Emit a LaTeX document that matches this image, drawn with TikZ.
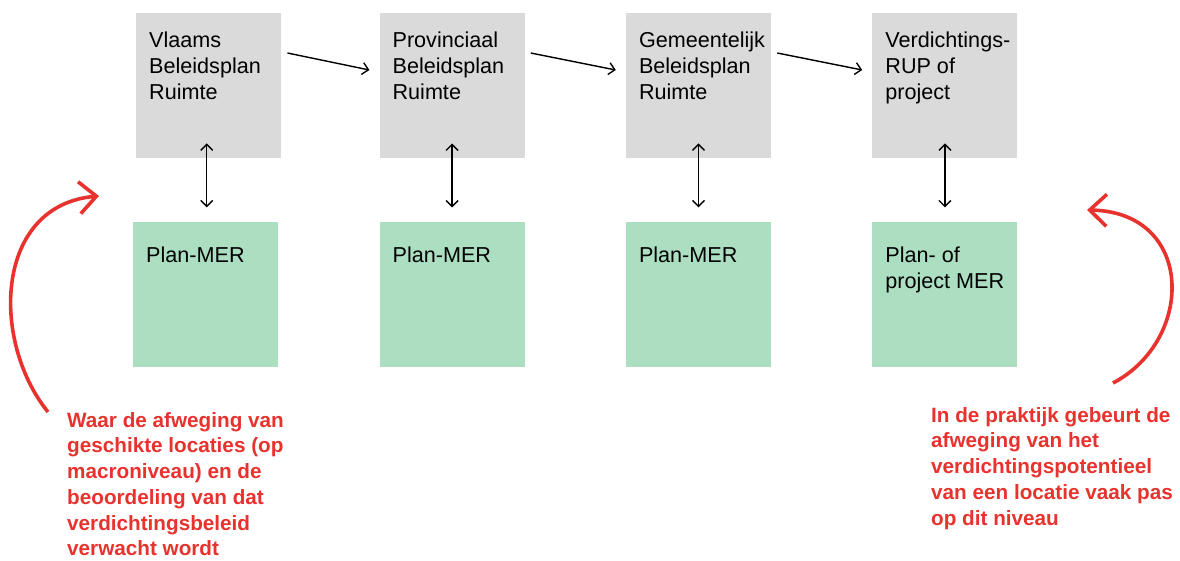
\documentclass[tikz,border=0pt]{standalone}
\usepackage{fontspec}
\setmainfont{Liberation Sans}
\usepackage{xcolor}
\usetikzlibrary{positioning,arrows.meta}

\definecolor{planGray}{HTML}{DADADA}
\definecolor{merGreen}{HTML}{ACDEC2}
\definecolor{noteRed}{HTML}{E8322E}

\tikzset{
  planbox/.style={fill=planGray, minimum width=145pt, minimum height=145pt, inner sep=0pt},
  merbox/.style={planbox, fill=merGreen},
  boxtext/.style={anchor=north west, align=left, inner sep=0pt, xshift=13pt, yshift=-19pt,
    font=\fontsize{21.6}{26}\selectfont},
  note/.style={anchor=north west, align=left, inner sep=0pt, text=noteRed,
    font=\fontsize{20.7}{25.7}\selectfont\bfseries},
  flow/.style={-{Straight Barb[length=6pt,width=12pt]}, line width=1.4pt},
  link/.style={{Straight Barb[length=6pt,width=12pt]}-{Straight Barb[length=6pt,width=12pt]}, line width=1.4pt},
  loop/.style={-{Straight Barb[length=17pt,width=32pt]}, line width=3.6pt, noteRed}
}

\begin{document}
\begin{tikzpicture}[x=1pt, y=-1pt]
        \useasboundingbox (0,0) rectangle (1180,560);
        % plans
        \node[planbox, anchor=north west, label={[boxtext]north west:Vlaams\\Beleidsplan\\Ruimte}] (vbr) at (136,13) {};
        \node[planbox, right=98pt of vbr, label={[boxtext]north west:Provinciaal\\Beleidsplan\\Ruimte}] (pbr) {};
        \node[planbox, right=101pt of pbr, label={[boxtext]north west:Gemeentelijk\\Beleidsplan\\Ruimte}] (gbr) {};
        \node[planbox, right=101pt of gbr, label={[boxtext]north west:Verdichtings-\\RUP of\\project}] (rup) {};
        % milieueffectrapporten
        \node[merbox, below=63pt of vbr, xshift=-3pt, label={[boxtext, yshift=-6pt]north west:Plan-MER}] (vmer) {};
        \node[merbox, below=63pt of pbr, label={[boxtext, yshift=-6pt]north west:Plan-MER}] (pmer) {};
        \node[merbox, below=63pt of gbr, label={[boxtext, yshift=-6pt]north west:Plan-MER}] (gmer) {};
        \node[merbox, below=63pt of rup, label={[boxtext, yshift=-6pt]north west:Plan- of\\project MER}] (rmer) {};
        \draw[flow] ([shift={(6,40)}]vbr.north east) -- ([shift={(-10,57)}]pbr.north west);
        \draw[flow] ([shift={(6,40)}]pbr.north east) -- ([shift={(-10,57)}]gbr.north west);
        \draw[flow] ([shift={(6,40)}]gbr.north east) -- ([shift={(-10,57)}]rup.north west);
        \draw[link] ([shift={(-2,-15)}]vbr.south) -- ([shift={(-2,-14)}]vbr.south |- vmer.north);
        \draw[link] ([shift={(0,-15)}]pbr.south) -- ([shift={(0,-14)}]pmer.north);
        \draw[link] ([shift={(0,-15)}]gbr.south) -- ([shift={(0,-14)}]gmer.north);
        \draw[link] ([shift={(0,-15)}]rup.south) -- ([shift={(0,-14)}]rmer.north);
        % red notes
        \node[note] (macro) at (67,412) {Waar de afweging van\\geschikte locaties (op\\macroniveau) en de\\beoordeling van dat\\verdichtingsbeleid\\verwacht wordt};
        \node[note] (niveau) at (931,407) {In de praktijk gebeurt de\\afweging van het\\verdichtingspotentieel\\van een locatie vaak pas\\op dit niveau};
        \coordinate (macrotip) at (99,196);
        \coordinate (niveautip) at (1087,210);
        \draw[loop] ([shift={(-19,0)}]macro.north west) .. controls (-10,340) and (-5,205) .. (macrotip);
        \draw[loop] ([shift={(182,-24)}]niveau.north west) .. controls (1195,340) and (1195,212) .. (niveautip);
    \end{tikzpicture}
\end{document}
